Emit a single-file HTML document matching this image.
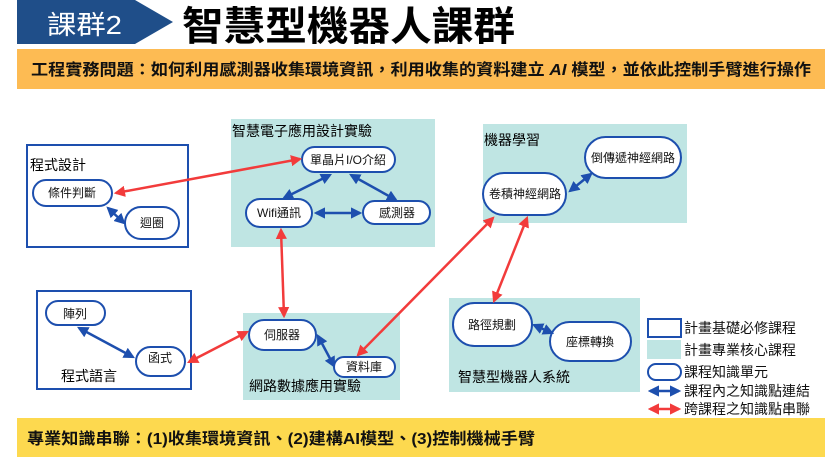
<!DOCTYPE html>
<html><head><meta charset="utf-8"><style>
body{margin:0;background:#fff;}
svg{display:block;font-family:"Liberation Sans","Noto Sans CJK TC",sans-serif;}
</style></head><body>
<svg width="836" height="461" viewBox="0 0 836 461" xmlns="http://www.w3.org/2000/svg">
<defs>
<marker id="b" viewBox="0 0 10 10" refX="8" refY="5" markerWidth="4.5" markerHeight="4.5" orient="auto-start-reverse"><path d="M0,0 L10,5 L0,10 z" fill="#1d4fae"/></marker>
<marker id="r" viewBox="0 0 10 10" refX="8" refY="5" markerWidth="4.5" markerHeight="4.5" orient="auto-start-reverse"><path d="M0,0 L10,5 L0,10 z" fill="#f23b3b"/></marker>
</defs>
<!-- header -->
<polygon points="17,0 135,0 173,22 135,44 17,44" fill="#1f4e89"/>
<text x="47" y="34" font-size="26" fill="#fff" textLength="75" lengthAdjust="spacingAndGlyphs">課群2</text>
<text x="182" y="40" font-size="40" font-weight="bold" fill="#000" textLength="333" lengthAdjust="spacingAndGlyphs">智慧型機器人課群</text>
<rect x="17" y="49" width="808" height="40" fill="#fdbb53"/>
<text x="31" y="75" font-size="16" font-weight="bold" fill="#111" textLength="780" lengthAdjust="spacingAndGlyphs">工程實務問題：如何利用感測器收集環境資訊，利用收集的資料建立 <tspan font-style="italic">AI</tspan> 模型，並依此控制手臂進行操作</text>
<rect x="17" y="418" width="808" height="39" fill="#fdd94f"/>
<text x="27" y="444" font-size="16" font-weight="bold" fill="#111" textLength="508" lengthAdjust="spacingAndGlyphs">專業知識串聯：(1)收集環境資訊、(2)建構AI模型、(3)控制機械手臂</text>

<!-- course boxes -->
<rect x="27" y="145" width="161" height="102" fill="#fff" stroke="#1d4fae" stroke-width="2"/>
<text x="30" y="170" font-size="14">程式設計</text>
<rect x="37" y="291" width="154" height="98" fill="#fff" stroke="#1d4fae" stroke-width="2"/>
<text x="61" y="381" font-size="14">程式語言</text>
<rect x="231" y="119" width="204" height="128" fill="#bfe5e3"/>
<text x="232" y="136" font-size="14">智慧電子應用設計實驗</text>
<rect x="243" y="313" width="157" height="87" fill="#bfe5e3"/>
<text x="249" y="391" font-size="14">網路數據應用實驗</text>
<rect x="483" y="124" width="204" height="99" fill="#bfe5e3"/>
<text x="484" y="145" font-size="14">機器學習</text>
<rect x="449" y="298" width="191" height="94" fill="#bfe5e3"/>
<text x="458" y="382" font-size="14">智慧型機器人系統</text>

<!-- pills -->
<g fill="#fff" stroke="#1d4fae" stroke-width="2">
<rect x="33" y="180" width="79" height="26" rx="13"/>
<rect x="125" y="207" width="54" height="32" rx="16"/>
<rect x="302" y="147" width="93" height="25" rx="12.5"/>
<rect x="246" y="199" width="66" height="28" rx="14"/>
<rect x="363" y="201" width="67" height="23" rx="11.5"/>
<rect x="46" y="301" width="59" height="24" rx="12"/>
<rect x="136" y="347" width="49" height="29" rx="14.5"/>
<rect x="249" y="320" width="67" height="30" rx="15"/>
<rect x="334" y="357" width="61" height="20" rx="10"/>
<rect x="585" y="137" width="96" height="41" rx="20.5"/>
<rect x="483" y="173" width="83" height="42" rx="21"/>
<rect x="453" y="303" width="79" height="43" rx="21.5"/>
<rect x="550" y="322" width="81" height="39" rx="19.5"/>
</g>
<g font-size="12" text-anchor="middle" fill="#111">
<text x="72" y="197">條件判斷</text>
<text x="152" y="227">迴圈</text>
<text x="348" y="164">單晶片I/O介紹</text>
<text x="279" y="217">Wifi通訊</text>
<text x="397" y="217">感測器</text>
<text x="75" y="318">陣列</text>
<text x="160" y="362">函式</text>
<text x="282" y="339">伺服器</text>
<text x="364" y="371">資料庫</text>
<text x="633" y="162">倒傳遞神經網路</text>
<text x="525" y="198">卷積神經網路</text>
<text x="492" y="329">路徑規劃</text>
<text x="590" y="346">座標轉換</text>
</g>

<!-- blue arrows -->
<g stroke="#1d4fae" stroke-width="2.5" marker-start="url(#b)" marker-end="url(#b)">
<line x1="330" y1="175" x2="284" y2="198"/>
<line x1="351" y1="175" x2="396" y2="200"/>
<line x1="316" y1="213" x2="360" y2="213"/>
<line x1="108" y1="208" x2="124" y2="223"/>
<line x1="79" y1="328" x2="133" y2="357"/>
<line x1="318" y1="336" x2="334" y2="366"/>
<line x1="570" y1="191" x2="591" y2="174"/>
<line x1="534" y1="325" x2="552" y2="333"/>
</g>
<!-- red arrows -->
<g stroke="#f23b3b" stroke-width="2.5" marker-start="url(#r)" marker-end="url(#r)">
<line x1="116" y1="193" x2="300" y2="159"/>
<line x1="281" y1="230" x2="284" y2="316"/>
<line x1="189" y1="362" x2="247" y2="332"/>
<line x1="358" y1="355" x2="493" y2="218"/>
<line x1="527" y1="218" x2="494" y2="301"/>
</g>

<!-- legend -->
<rect x="648" y="319" width="33" height="18" fill="#fff" stroke="#1d4fae" stroke-width="2"/>
<rect x="647" y="340" width="34" height="19" fill="#bfe5e3"/>
<rect x="648" y="364" width="33" height="16" rx="8" fill="#fff" stroke="#1d4fae" stroke-width="2"/>
<line x1="650" y1="391" x2="679" y2="391" stroke="#1d4fae" stroke-width="2.5" marker-start="url(#b)" marker-end="url(#b)"/>
<line x1="650" y1="409" x2="679" y2="409" stroke="#f23b3b" stroke-width="2.5" marker-start="url(#r)" marker-end="url(#r)"/>
<g font-size="14" fill="#111">
<text x="684" y="333">計畫基礎必修課程</text>
<text x="684" y="355">計畫專業核心課程</text>
<text x="684" y="377">課程知識單元</text>
<text x="684" y="396">課程內之知識點連結</text>
<text x="684" y="414">跨課程之知識點串聯</text>
</g>
</svg>
</body></html>
